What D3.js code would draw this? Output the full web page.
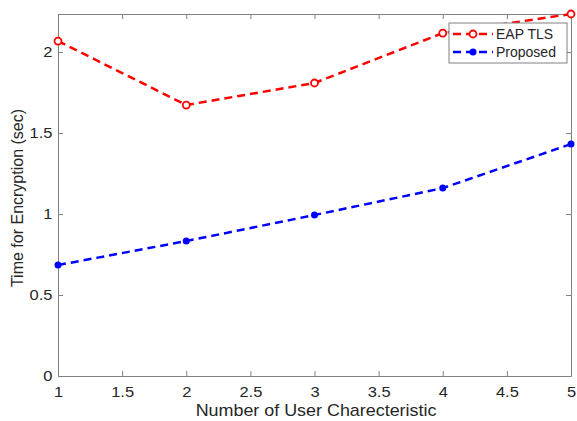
<!DOCTYPE html>
<html>
<head>
<meta charset="utf-8">
<script src="https://cdn.jsdelivr.net/npm/d3@7"></script>
<style>
  body { margin: 0; background: #fff; }
  text { font-family: "Liberation Sans", Arial, sans-serif; }
</style>
</head>
<body>
<div id="chart"></div>
<script>
// Chart size and plot area
const width = 577;
const height = 421;
const margin = {left: 58, right: 6, top: 14, bottom: 45};

// Data
const xValues = [1, 2, 3, 4, 5];
const eapTls = [2.068, 1.673, 1.809, 2.117, 2.235];
const proposed = [0.685, 0.833, 0.994, 1.16, 1.432];
const xTicks = [1, 1.5, 2, 2.5, 3, 3.5, 4, 4.5, 5];
const yTicks = [0, 0.5, 1, 1.5, 2];
const seriesNames = ["EAP TLS", "Proposed"];

const svg = d3.select("#chart")
  .append("svg")
  .attr("width", width)
  .attr("height", height);

const xScale = d3.scaleLinear()
  .domain([1, 5])
  .range([margin.left, width - margin.right]);

const yScale = d3.scaleLinear()
  .domain([0, 2.235])
  .range([height - margin.bottom, margin.top]);

const axisColor = "#262626";
const frameColor = "#808080";

// Axes with inward ticks (MATLAB look)
svg.append("g")
  .attr("transform", `translate(0,${height - margin.bottom})`)
  .call(d3.axisBottom(xScale).tickValues(xTicks).tickFormat(d3.format("")).tickSizeInner(-5).tickSizeOuter(0).tickPadding(10));

svg.append("g")
  .attr("transform", `translate(${margin.left},0)`)
  .call(d3.axisLeft(yScale).tickValues(yTicks).tickFormat(d3.format("")).tickSizeInner(-5).tickSizeOuter(0).tickPadding(5));

// Top and right ticks
svg.append("g")
  .attr("transform", `translate(0,${margin.top})`)
  .call(d3.axisTop(xScale).tickValues(xTicks).tickFormat("").tickSizeInner(-5).tickSizeOuter(0));

svg.append("g")
  .attr("transform", `translate(${width - margin.right},0)`)
  .call(d3.axisRight(yScale).tickValues(yTicks).tickFormat("").tickSizeInner(-5).tickSizeOuter(0));

svg.selectAll(".domain, .tick line").attr("stroke", frameColor);
// picture is a bit wider than tall, so stretch text sideways
svg.selectAll(".tick text")
  .attr("font-size", 15)
  .attr("fill", axisColor)
  .attr("transform", "scale(1.1,1)")
  .style("font-family", "'Liberation Sans', Arial, sans-serif");

// Axis labels
svg.append("text")
  .attr("transform", "translate(316,416) scale(1.12,1)")
  .attr("text-anchor", "middle")
  .attr("font-size", 16)
  .attr("fill", axisColor)
  .text("Number of User Charecteristic");

svg.append("text")
  .attr("transform", "translate(23,198) rotate(-90)")
  .attr("text-anchor", "middle")
  .attr("font-size", 16)
  .attr("fill", axisColor)
  .text("Time for Encryption (sec)");

// Lines
const line = d3.line()
  .x((d, i) => xScale(xValues[i]))
  .y(d => yScale(d));

const colors = ["#ff0000", "#0000ff"];
const series = [eapTls, proposed];

series.forEach((s, k) => {
  svg.append("path")
    .datum(s)
    .attr("fill", "none")
    .attr("stroke", colors[k])
    .attr("stroke-width", 2.5)
    .attr("stroke-dasharray", "8,5")
    .attr("d", line);
});

// Markers
svg.selectAll(".m-eap")
  .data(eapTls)
  .enter()
  .append("circle")
    .attr("cx", (d, i) => xScale(xValues[i]))
    .attr("cy", d => yScale(d))
    .attr("r", 3.5)
    .attr("fill", "#fff")
    .attr("stroke", colors[0])
    .attr("stroke-width", 1.8);

svg.selectAll(".m-prop")
  .data(proposed)
  .enter()
  .append("circle")
    .attr("cx", (d, i) => xScale(xValues[i]))
    .attr("cy", d => yScale(d))
    .attr("r", 3.5)
    .attr("fill", colors[1]);

// Legend
const legend = svg.append("g").attr("transform", "translate(449,23)");
legend.append("rect")
  .attr("width", 118)
  .attr("height", 40)
  .attr("fill", "#fff")
  .attr("stroke", frameColor);

seriesNames.forEach((name, k) => {
  const ly = 11 + k * 18;
  legend.append("line")
    .attr("x1", 4).attr("x2", 44)
    .attr("y1", ly).attr("y2", ly)
    .attr("stroke", colors[k])
    .attr("stroke-width", 2.5)
    .attr("stroke-dasharray", "8,5");
  if (k === 0) {
    legend.append("circle").attr("cx", 24).attr("cy", ly).attr("r", 3.5)
      .attr("fill", "#fff").attr("stroke", colors[k]).attr("stroke-width", 1.8);
  } else {
    legend.append("circle").attr("cx", 24).attr("cy", ly).attr("r", 3.5)
      .attr("fill", colors[k]);
  }
  legend.append("text")
    .attr("x", 47)
    .attr("y", ly + 5)
    .attr("font-size", 14)
    .attr("fill", axisColor)
    .text(name);
});
</script>
</body>
</html>
